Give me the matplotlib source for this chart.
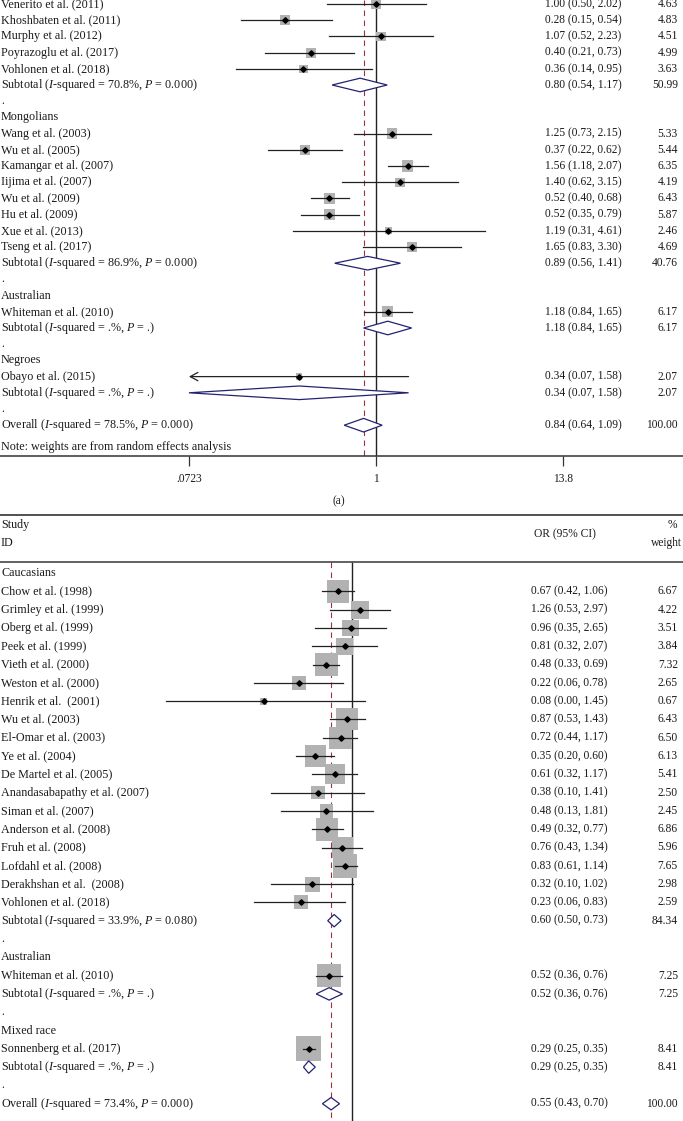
import numpy as np
import matplotlib
matplotlib.use('Agg')
import matplotlib.pyplot as plt
from matplotlib import transforms
from matplotlib.patches import Polygon

plt.rcParams['font.family'] = 'Liberation Serif'
plt.rcParams['mathtext.fontset'] = 'custom'
plt.rcParams['mathtext.rm'] = 'Liberation Serif'
plt.rcParams['mathtext.it'] = 'Liberation Serif:italic'

# ---- panel (a) data ----
a_labels = ['Venerito et al. (2011)', 'Khoshbaten et al. (2011)', 'Murphy et al. (2012)',
            'Poyrazoglu et al. (2017)', 'Vohlonen et al. (2018)',
            'Subtotal ($I$-squared = 70.8%, $P$ = 0.000)', '.', 'Mongolians',
            'Wang et al. (2003)', 'Wu et al. (2005)', 'Kamangar et al. (2007)', 'Iijima et al. (2007)',
            'Wu et al. (2009)', 'Hu et al. (2009)', 'Xue et al. (2013)', 'Tseng et al. (2017)',
            'Subtotal ($I$-squared = 86.9%, $P$ = 0.000)', '.', 'Australian',
            'Whiteman et al. (2010)', 'Subtotal ($I$-squared = .%, $P$ = .)', '.', 'Negroes',
            'Obayo et al. (2015)', 'Subtotal ($I$-squared = .%, $P$ = .)', '.',
            'Overall ($I$-squared = 78.5%, $P$ = 0.000)']
a_kind = ['s', 's', 's', 's', 's', 'd', '', '',
          's', 's', 's', 's', 's', 's', 's', 's', 'd', '', '',
          's', 'd', '', '', 's', 'd', '', 'd']
a_or = [1.00, 0.28, 1.07, 0.40, 0.36, 0.80, None, None,
        1.25, 0.37, 1.56, 1.40, 0.52, 0.52, 1.19, 1.65, 0.89, None, None,
        1.18, 1.18, None, None, 0.34, 0.34, None, 0.84]
a_lo = [0.50, 0.15, 0.52, 0.21, 0.14, 0.54, None, None,
        0.73, 0.22, 1.18, 0.62, 0.40, 0.35, 0.31, 0.83, 0.56, None, None,
        0.84, 0.84, None, None, 0.07, 0.07, None, 0.64]
a_hi = [2.02, 0.54, 2.23, 0.73, 0.95, 1.17, None, None,
        2.15, 0.62, 2.07, 3.15, 0.68, 0.79, 4.61, 3.30, 1.41, None, None,
        1.65, 1.65, None, None, 1.58, 1.58, None, 1.09]
a_wt = [4.63, 4.83, 4.51, 4.99, 3.63, 50.99, None, None,
        5.33, 5.44, 6.35, 4.19, 6.43, 5.87, 2.46, 4.69, 40.76, None, None,
        6.17, 6.17, None, None, 2.07, 2.07, None, 100.00]
a_ticks = [0.0723, 1, 13.8]
a_ticklabels = ['.0723', '1', '13.8']

# ---- panel (b) data ----
b_labels = ['Caucasians', 'Chow et al. (1998)', 'Grimley et al. (1999)', 'Oberg et al. (1999)',
            'Peek et al. (1999)', 'Vieth et al. (2000)', 'Weston et al. (2000)',
            'Henrik et al.  (2001)', 'Wu et al. (2003)', 'El-Omar et al. (2003)', 'Ye et al. (2004)',
            'De Martel et al. (2005)', 'Anandasabapathy et al. (2007)', 'Siman et al. (2007)',
            'Anderson et al. (2008)', 'Fruh et al. (2008)', 'Lofdahl et al. (2008)',
            'Derakhshan et al.  (2008)', 'Vohlonen et al. (2018)',
            'Subtotal ($I$-squared = 33.9%, $P$ = 0.080)', '.', 'Australian',
            'Whiteman et al. (2010)', 'Subtotal ($I$-squared = .%, $P$ = .)', '.', 'Mixed race',
            'Sonnenberg et al. (2017)', 'Subtotal ($I$-squared = .%, $P$ = .)', '.',
            'Overall ($I$-squared = 73.4%, $P$ = 0.000)']
b_kind = ['', 's', 's', 's', 's', 's', 's', 's', 's', 's', 's', 's', 's', 's', 's', 's', 's', 's', 's',
          'd', '', '', 's', 'd', '', '', 's', 'd', '', 'd']
b_or = [None, 0.67, 1.26, 0.96, 0.81, 0.48, 0.22, 0.08, 0.87, 0.72, 0.35, 0.61, 0.38, 0.48,
        0.49, 0.76, 0.83, 0.32, 0.23, 0.60, None, None, 0.52, 0.52, None, None, 0.29, 0.29, None, 0.55]
b_lo = [None, 0.42, 0.53, 0.35, 0.32, 0.33, 0.06, 0.0049, 0.53, 0.44, 0.20, 0.32, 0.10, 0.13,
        0.32, 0.43, 0.61, 0.10, 0.06, 0.50, None, None, 0.36, 0.36, None, None, 0.25, 0.25, None, 0.43]
b_hi = [None, 1.06, 2.97, 2.65, 2.07, 0.69, 0.78, 1.45, 1.43, 1.17, 0.60, 1.17, 1.41, 1.81,
        0.77, 1.34, 1.14, 1.02, 0.83, 0.73, None, None, 0.76, 0.76, None, None, 0.35, 0.35, None, 0.70]
b_wt = [None, 6.67, 4.22, 3.51, 3.84, 7.32, 2.65, 0.67, 6.43, 6.50, 6.13, 5.41, 2.50, 2.45,
        6.86, 5.96, 7.65, 2.98, 2.59, 84.34, None, None, 7.25, 7.25, None, None, 8.41, 8.41, None, 100.00]

W, H = 683, 1121
FS = 8.7     # row labels
FN = 8.3     # numbers, ticks
TXT = '#1a1a1a'
BOX = '#b2b2b2'
NAVY = '#232372'
RED = '#9a3445'

fig = plt.figure(figsize=(W / 100, H / 100), dpi=100)


def log_lim(x_one, ppl):
    # x limits so that OR=1 sits at pixel x_one, ppl pixels per ln unit
    return np.exp(-x_one / ppl), np.exp((W - x_one) / ppl)


def draw_panel(ax, labels, kind, ors, los, his, wts, box_scale, dia_h, x_num, clip_lo=None):
    tr = transforms.blended_transform_factory(fig.transFigure, ax.transData)
    for i, lab in enumerate(labels):
        ax.text(1 / W, i, lab, transform=tr, ha='left', va='center', fontsize=FS, color=TXT)
        if kind[i] == '':
            continue
        o, lo, hi, w = ors[i], los[i], his[i], wts[i]
        ax.text(x_num / W, i, f'{o:.2f} ({lo:.2f}, {hi:.2f})', transform=tr,
                ha='left', va='center', fontsize=FN, color=TXT)
        ax.text(678 / W, i, f'{w:.2f}', transform=tr, ha='right', va='center', fontsize=FN, color=TXT)
        if kind[i] == 's':
            ax.scatter([o], [i], marker='s', s=box_scale * w, color=BOX, edgecolors='none', zorder=2)
            if clip_lo is not None and lo < clip_lo:
                ax.annotate('', xy=(clip_lo, i), xytext=(hi, i),
                            arrowprops=dict(arrowstyle='->,head_length=0.55,head_width=0.3',
                                            color='#222222', lw=0.9, shrinkA=0, shrinkB=0), zorder=3)
            else:
                ax.plot([lo, hi], [i, i], color='#222222', lw=0.9, zorder=3)
            ax.plot([o], [i], marker='D', ms=2.8, color='black', zorder=4)
        else:
            lo_d = lo if clip_lo is None else max(lo, clip_lo)
            ax.add_patch(Polygon([(lo_d, i), (o, i - dia_h), (hi, i), (o, i + dia_h)], closed=True,
                                 facecolor='white', edgecolor=NAVY, lw=0.9, zorder=5))


# ---------------- panel (a) ----------------
row0_a, step_a = 4, 16.2
ax_a = fig.add_axes([0, 1 - 456 / H, 1, 456 / H])
ax_a.set_xscale('log')
ax_a.set_xlim(*log_lim(376, 71.2))
ya_top, ya_bot = (0 - row0_a) / step_a, (456 - row0_a) / step_a
ax_a.set_ylim(ya_bot, ya_top)
for sp in ['top', 'left', 'right']:
    ax_a.spines[sp].set_visible(False)
ax_a.spines['bottom'].set_linewidth(1.1)
ax_a.spines['bottom'].set_color('#333333')
ax_a.set_yticks([])
ax_a.set_xticks(a_ticks)
ax_a.set_xticklabels(a_ticklabels, fontsize=FN, color=TXT)
ax_a.xaxis.set_minor_locator(matplotlib.ticker.NullLocator())
ax_a.tick_params(axis='x', length=7, width=0.9, color='#333333', pad=5)
ax_a.patch.set_alpha(0)

ax_a.plot([1, 1], [ya_top, ya_bot], color='#222222', lw=1.0, zorder=1)
ax_a.plot([a_or[-1], a_or[-1]], [ya_top, ya_bot], color=RED, lw=0.8, dashes=(5, 4), zorder=1)
draw_panel(ax_a, a_labels, a_kind, a_or, a_lo, a_hi, a_wt, 10.5, 0.42, 545, clip_lo=a_ticks[0])
tr_a = transforms.blended_transform_factory(fig.transFigure, ax_a.transData)
ax_a.text(1 / W, (447 - row0_a) / step_a, 'Note: weights are from random effects analysis',
          transform=tr_a, ha='left', va='center', fontsize=FS, color=TXT)
fig.text(339 / W, 1 - 501 / H, '(a)', ha='center', va='center', fontsize=FN, color=TXT)

# ---------------- panel (b) ----------------
row0_b, step_b = 573, 18.3
ax_b = fig.add_axes([0, 0, 1, (H - 515) / H])
ax_b.set_xscale('log')
ax_b.set_xlim(*log_lim(352, 35.0))
yb_top, yb_bot = (515 - row0_b) / step_b, (H - row0_b) / step_b
ax_b.set_ylim(yb_bot, yb_top)
for sp in ['bottom', 'left', 'right']:
    ax_b.spines[sp].set_visible(False)
ax_b.spines['top'].set_linewidth(1.2)
ax_b.spines['top'].set_color('#333333')
ax_b.set_xticks([])
ax_b.set_yticks([])
ax_b.patch.set_alpha(0)

y_hdr = (562 - row0_b) / step_b
ax_b.axhline(y_hdr, color='#555555', lw=1.3)
ax_b.plot([1, 1], [y_hdr, yb_bot], color='#222222', lw=1.0, zorder=1)
ax_b.plot([b_or[-1], b_or[-1]], [y_hdr, yb_bot], color=RED, lw=0.8, dashes=(5, 4), zorder=1)
draw_panel(ax_b, b_labels, b_kind, b_or, b_lo, b_hi, b_wt, 39.0, 0.34, 531)

tr_b = transforms.blended_transform_factory(fig.transFigure, ax_b.transData)
ax_b.text(1 / W, (525 - row0_b) / step_b, 'Study', transform=tr_b, ha='left', va='center', fontsize=FS, color=TXT)
ax_b.text(1 / W, (543 - row0_b) / step_b, 'ID', transform=tr_b, ha='left', va='center', fontsize=FS, color=TXT)
ax_b.text(565 / W, (534 - row0_b) / step_b, 'OR (95% CI)', transform=tr_b, ha='center', va='center',
          fontsize=FN, color=TXT)
ax_b.text(677 / W, (525 - row0_b) / step_b, '%', transform=tr_b, ha='right', va='center', fontsize=FN, color=TXT)
ax_b.text(682 / W, (543 - row0_b) / step_b, 'weight', transform=tr_b, ha='right', va='center',
          fontsize=FN, color=TXT)

fig.savefig('out.png', dpi=100, facecolor='white')
